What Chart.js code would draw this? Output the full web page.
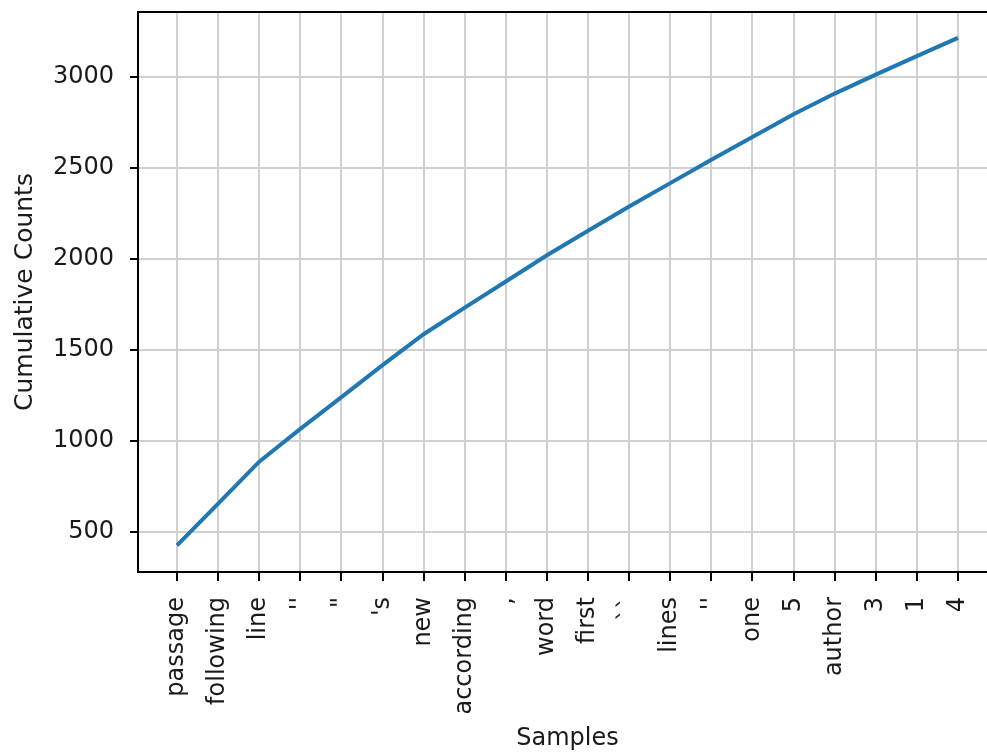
<!DOCTYPE html>
<html>
<head>
<meta charset="utf-8">
<script src="https://cdn.jsdelivr.net/npm/chart.js@4.4.1/dist/chart.umd.min.js"></script>
<style>
  html, body { margin: 0; padding: 0; background: #fff; overflow: hidden; }
  #wrap { width: 1000px; height: 754px; }
</style>
</head>
<body>
<div id="wrap"><canvas id="freqChart" width="1000" height="754"></canvas></div>
<script>
// datos
var samples = ['passage', 'following', 'line', "''", '"', "'s", 'new', 'according', ',', 'word',
               'first', '``', 'lines', "''", 'one', '5', 'author', '3', '1', '4'];
var counts = [425, 655, 885, 1065, 1240, 1415, 1585, 1731, 1875, 2019,
              2153, 2287, 2415, 2543, 2669, 2793, 2907, 3011, 3113, 3213];
var yTicks = [500, 1000, 1500, 2000, 2500, 3000];

var font = { family: 'DejaVu Sans', size: 24 };

// marco negro alrededor del area del grafico
var framePlugin = {
    id: 'frame',
    afterDraw: function (chart) {
        var a = chart.chartArea;
        var ctx = chart.ctx;
        ctx.save();
        ctx.strokeStyle = '#000';
        ctx.lineWidth = 2;
        ctx.strokeRect(a.left, a.top, a.right - a.left, a.bottom - a.top);
        ctx.restore();
    }
};

var ctx = document.getElementById('freqChart').getContext('2d');
var chart = new Chart(ctx, {
    type: 'line',
    data: {
        datasets: [{
            data: counts.map(function (v, i) { return { x: i, y: v }; }),
            borderColor: '#1f77b4',
            borderWidth: 4,
            pointRadius: 0,
            tension: 0,
            fill: false
        }]
    },
    options: {
        responsive: false,
        animation: false,
        devicePixelRatio: 1,
        layout: { padding: { top: 12, right: 3, left: 0, bottom: 0 } },
        plugins: { legend: { display: false }, tooltip: { enabled: false } },
        scales: {
            x: {
                type: 'linear',
                min: -0.95,
                max: 19.95,
                afterBuildTicks: function (scale) {
                    scale.ticks = samples.map(function (s, i) { return { value: i }; });
                },
                afterFit: function (scale) {
                    scale.height = 182;
                    scale.paddingLeft = 0;
                    scale.paddingRight = 0;
                },
                grid: { color: '#d0d0d0', lineWidth: 2, tickColor: '#000', tickLength: 9, tickWidth: 2 },
                border: { color: '#000', width: 2 },
                ticks: {
                    autoSkip: false,
                    minRotation: 90,
                    maxRotation: 90,
                    padding: 16,
                    color: '#1a1a1a',
                    font: font,
                    callback: function (value) { return samples[value]; }
                },
                title: { display: true, text: 'Samples', color: '#1a1a1a', font: font, padding: { top: 0, bottom: 1 } }
            },
            y: {
                min: 279,
                max: 3355,
                afterBuildTicks: function (scale) {
                    scale.ticks = yTicks.map(function (v) { return { value: v }; });
                },
                afterFit: function (scale) {
                    scale.width = 138;
                    scale.paddingTop = 0;
                    scale.paddingBottom = 0;
                },
                grid: { color: '#d0d0d0', lineWidth: 2, tickColor: '#000', tickLength: 8, tickWidth: 2 },
                border: { color: '#000', width: 2 },
                ticks: {
                    padding: 16,
                    color: '#1a1a1a',
                    font: font,
                    callback: function (value) { return String(value); }
                },
                title: { display: true, text: 'Cumulative Counts', color: '#1a1a1a', font: { family: 'DejaVu Sans', size: 25 }, padding: { top: 10, bottom: 4 } }
            }
        }
    },
    plugins: [framePlugin]
});
</script>
</body>
</html>
